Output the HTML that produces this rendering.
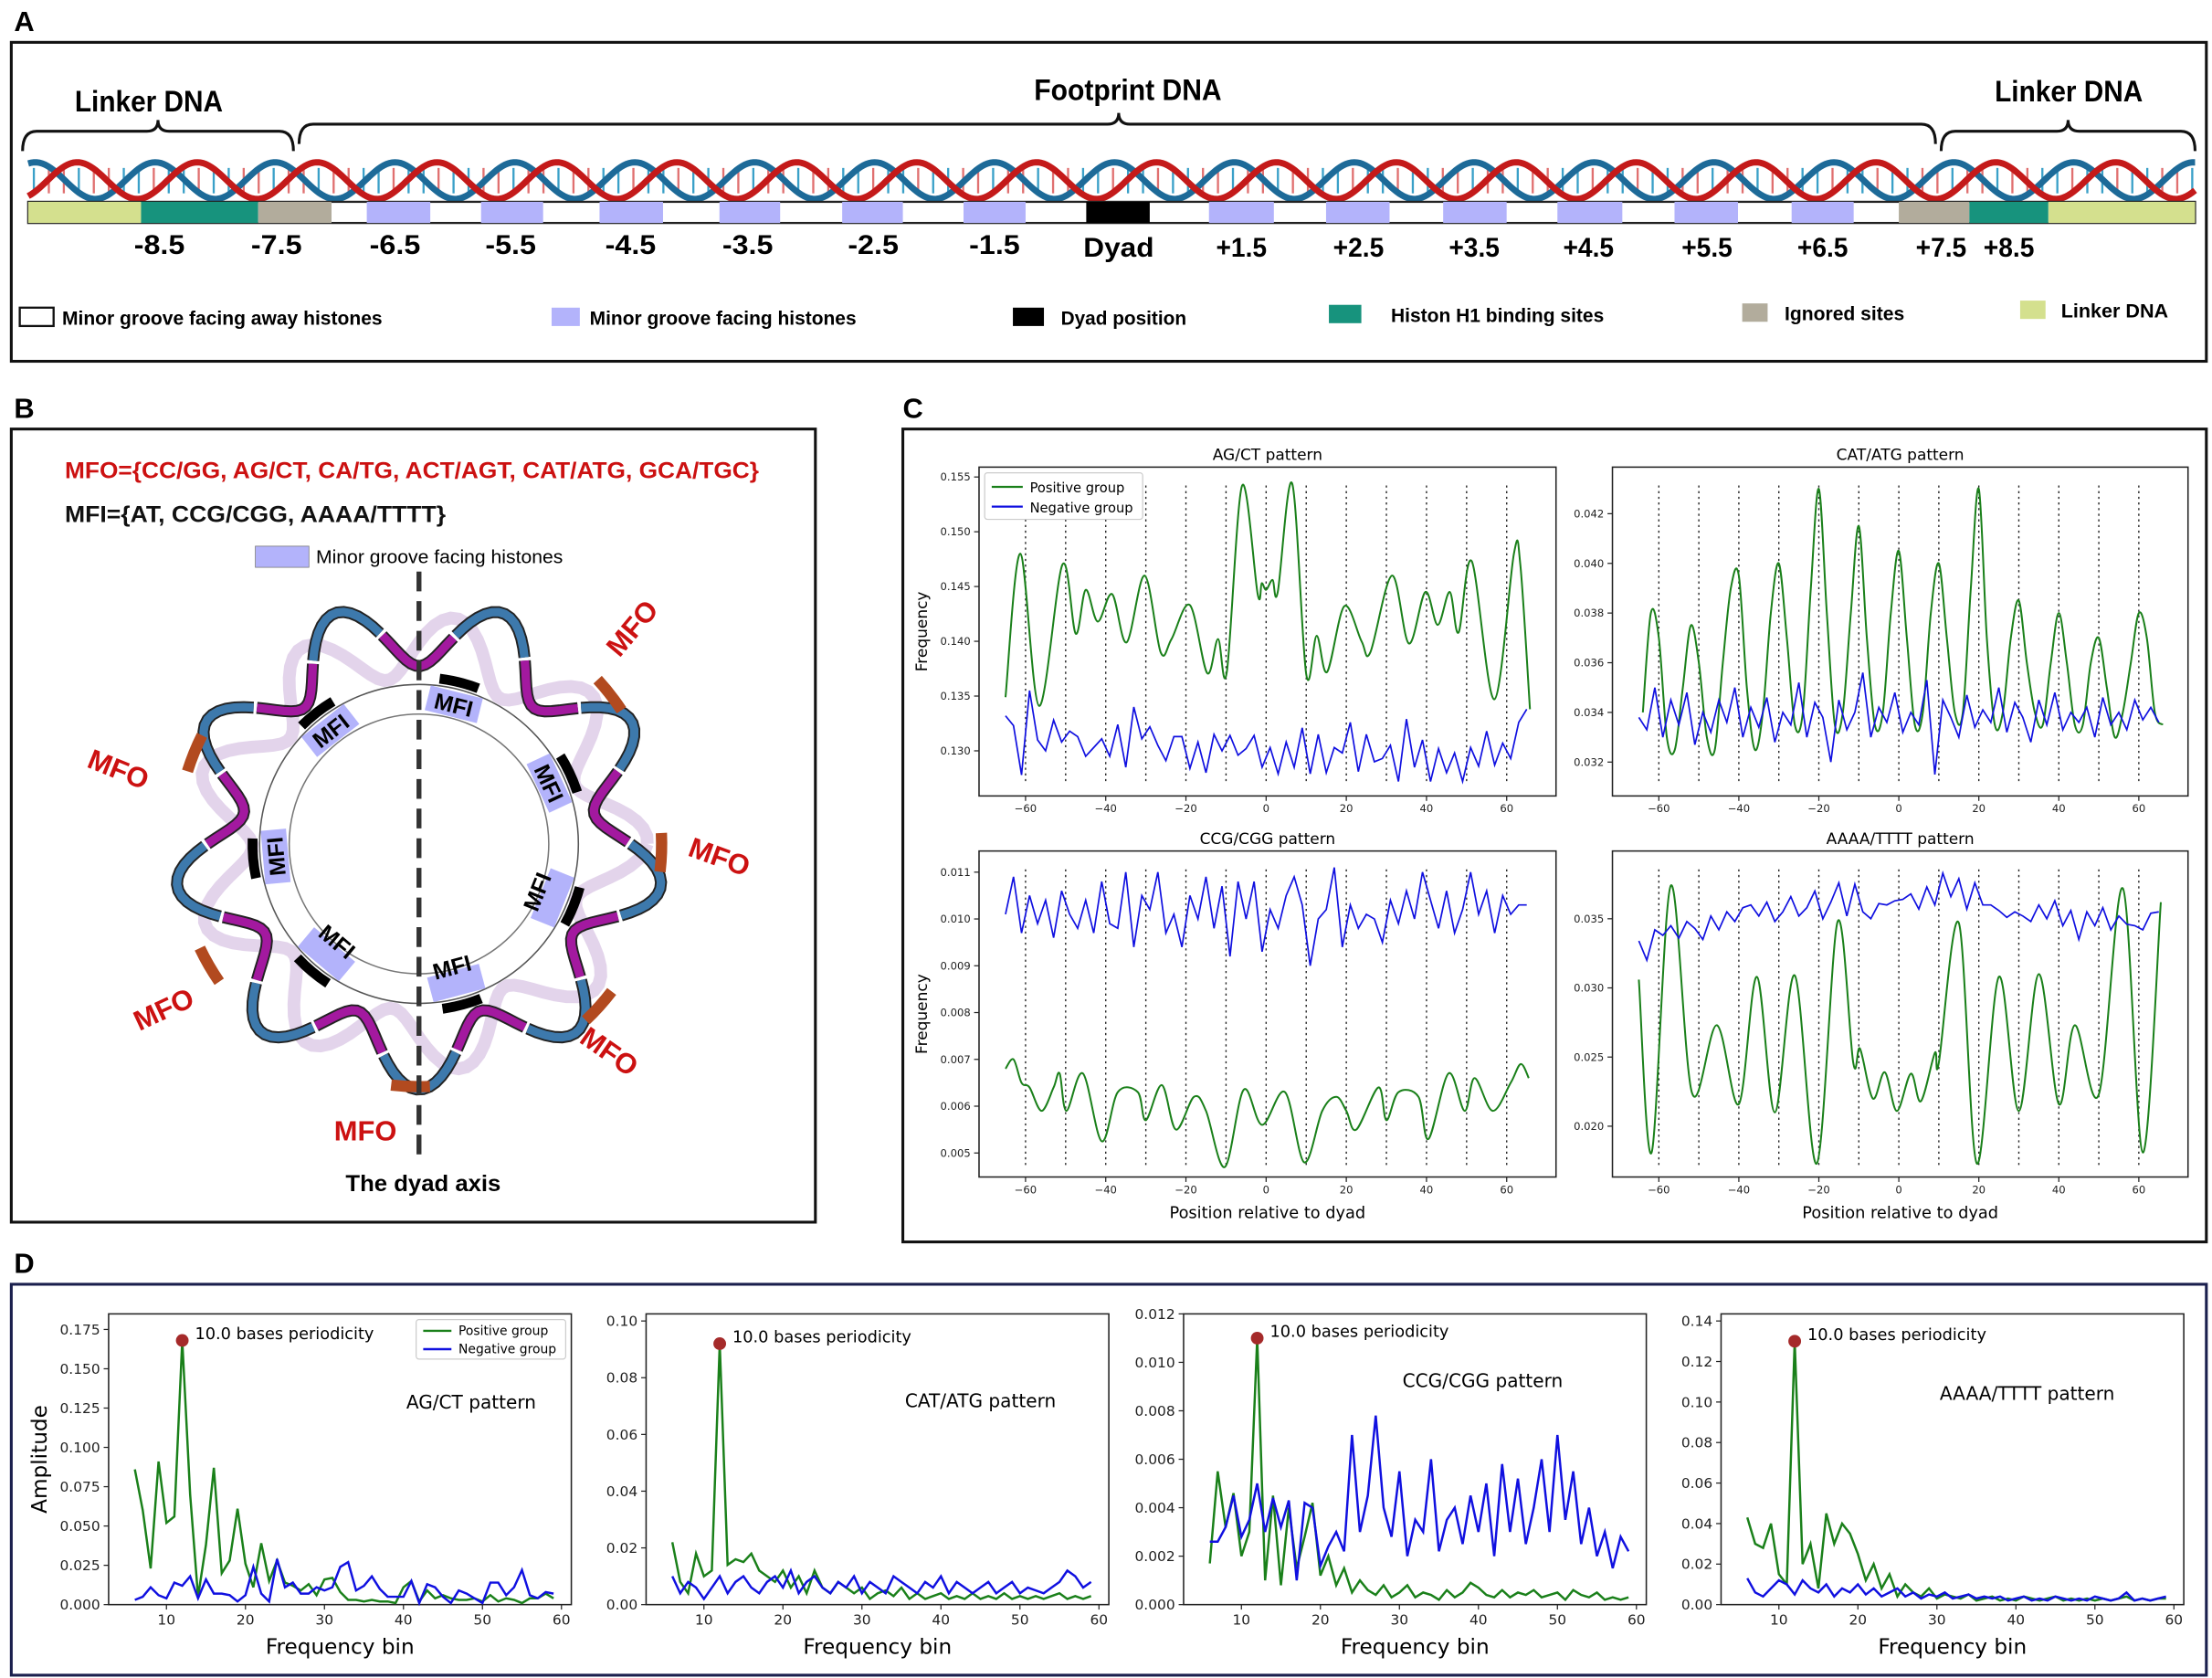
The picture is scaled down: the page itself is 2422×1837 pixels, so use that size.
<!DOCTYPE html>
<html><head><meta charset="utf-8">
<style>
html,body{margin:0;padding:0;background:#fff;}
svg{display:block;}
text{font-family:"DejaVu Sans","Liberation Sans",sans-serif;}
text.bold{font-family:"Liberation Sans",sans-serif;font-weight:bold;}
</style></head>
<body>
<svg id="fig" width="2422" height="1837" viewBox="0 0 1568 1189" preserveAspectRatio="none" xmlns="http://www.w3.org/2000/svg">
<rect x="0" y="0" width="1568" height="1189" fill="#fff"/>
<text x="10" y="22" class="bold" font-size="20">A</text>
<rect x="8" y="30" width="1556" height="226" fill="none" stroke="#111" stroke-width="2"/>
<text x="53" y="79" class="bold" font-size="21" textLength="105" lengthAdjust="spacingAndGlyphs">Linker DNA</text>
<text x="733" y="71" class="bold" font-size="21" textLength="133" lengthAdjust="spacingAndGlyphs">Footprint DNA</text>
<text x="1414" y="72" class="bold" font-size="21" textLength="105" lengthAdjust="spacingAndGlyphs">Linker DNA</text>
<g id="braces" fill="none" stroke="#111" stroke-width="2"></g>
<g id="helix"></g>
<g id="barA"></g>
<g id="legendA" font-size="14"></g>
<text x="10" y="296" class="bold" font-size="20">B</text>
<rect x="8" y="304" width="570" height="562" fill="none" stroke="#111" stroke-width="2"/>
<text x="46" y="339" class="bold" font-size="16" fill="#cc1111" textLength="492" lengthAdjust="spacingAndGlyphs">MFO={CC/GG, AG/CT, CA/TG, ACT/AGT, CAT/ATG, GCA/TGC}</text>
<text x="46" y="370" class="bold" font-size="16" fill="#111" textLength="270" lengthAdjust="spacingAndGlyphs">MFI={AT, CCG/CGG, AAAA/TTTT}</text>
<rect x="181" y="387" width="38" height="15" fill="#b3b3fb" stroke="#777" stroke-width="0.5"/>
<text x="224" y="399" font-size="13" style="font-family:'Liberation Sans',sans-serif" textLength="175" lengthAdjust="spacingAndGlyphs">Minor groove facing histones</text>
<g id="nucleosome"></g>
<text x="245" y="844" class="bold" font-size="16" textLength="110" lengthAdjust="spacingAndGlyphs">The dyad axis</text>
<text x="640" y="296" class="bold" font-size="20">C</text>
<rect x="640" y="304" width="924" height="576" fill="none" stroke="#111" stroke-width="2"/>
<g id="panelC"></g>
<text x="10" y="902" class="bold" font-size="20">D</text>
<rect x="8" y="910" width="1556" height="277" fill="none" stroke="#1a1f4d" stroke-width="2"/>
<g id="panelD"></g>
</svg>
<script>
const agctGx = [-65,-61.3,-56.6,-50.8,-47.5,-45,-42,-38.4,-34.8,-30.3,-26.3,-23.6,-19,-14.7,-12,-9.8,-6,-2.1,-1.1,0,1.6,2.9,6.5,10,12.6,15.2,19.5,23.8,26,31.4,35.6,39.7,42.8,45.8,48,51.3,56.9,61.8,63.4,65.8];
const agctG = [.1349,.148,.1341,.147,.1407,.1447,.1418,.1443,.1399,.146,.139,.1402,.1433,.1371,.1402,.1372,.1542,.1443,.1453,.1447,.1456,.1445,.1544,.137,.1405,.1372,.1432,.140,.139,.146,.1398,.1445,.1415,.1445,.1408,.1473,.1347,.148,.147,.1338];
const agctB = [.1332,.1323,.1278,.1355,.1310,.1300,.1328,.1308,.1318,.1313,.1295,.1303,.1311,.1295,.1324,.1285,.1340,.1311,.1322,.1305,.1291,.1313,.1313,.1284,.1308,.1280,.1315,.1300,.1314,.1296,.1302,.1314,.1285,.1303,.1279,.1308,.1285,.1321,.1279,.1315,.1280,.1303,.1298,.1326,.1281,.1315,.1290,.1293,.1305,.1272,.1329,.1285,.1310,.1272,.1302,.1280,.1298,.1272,.1303,.1286,.1318,.1287,.1307,.1293,.1326,.1338];
const catGx = [-64,-62,-60,-58,-56,-54,-52,-50,-48,-46,-44,-42,-40,-38,-36,-34,-32,-30,-28,-26,-24,-22,-20,-18,-16,-14,-12,-10,-8,-6,-4,-2,0,2,4,6,8,10,12,14,16,18,20,22,24,26,28,30,32,34,36,38,40,42,44,46,48,50,52,54,56,58,60,62,64,66];
const catG = [.034,.038,.037,.033,.0325,.035,.0375,.036,.033,.0325,.036,.039,.0395,.035,.0325,.034,.038,.040,.037,.0335,.034,.039,.043,.038,.0335,.034,.038,.0415,.037,.0335,.034,.038,.0405,.037,.0335,.034,.038,.040,.037,.034,.034,.039,.043,.037,.0335,.034,.037,.0385,.036,.034,.0335,.036,.038,.036,.0335,.0335,.036,.037,.035,.033,.034,.036,.038,.037,.034,.0335];
const catB = [.0338,.0333,.0350,.0330,.0345,.0335,.0348,.0327,.0340,.0332,.0345,.0336,.0350,.0330,.0342,.0334,.0346,.0328,.0340,.0335,.0352,.0330,.0344,.0338,.0320,.0345,.0333,.0340,.0356,.0330,.0342,.0336,.0348,.0332,.0340,.0335,.0353,.0315,.0345,.0338,.0330,.0347,.0334,.0341,.0336,.0350,.0332,.0344,.0338,.0328,.0345,.0335,.0348,.0333,.0340,.0336,.0342,.0330,.0346,.0335,.0340,.0333,.0345,.0337,.0342,.0336];
const ccgGx = [-65,-63,-61,-59,-56,-53,-51.5,-49.8,-45.7,-41,-37,-32,-30,-26,-22.5,-18,-15,-10.3,-5.6,-1,4.7,9.5,14,17.5,20,22.5,28,30,33,38,40.5,45.5,49.5,52,56.5,61,63.5,65.5];
const ccgG = [.0068,.0070,.0065,.0064,.0059,.0064,.0067,.0059,.0067,.00525,.0063,.0063,.0057,.00645,.0055,.0062,.0059,.0047,.00635,.0056,.0063,.0048,.0059,.0062,.0059,.0055,.0064,.0057,.0063,.0062,.0053,.0067,.0059,.0066,.0059,.0065,.0069,.0066];
const ccgB = [.0101,.0109,.0097,.0105,.0099,.0104,.0096,.0106,.0101,.0098,.0104,.0097,.0108,.0099,.0098,.0110,.0094,.0105,.0102,.0110,.0097,.0101,.0094,.0105,.0100,.0109,.0098,.0107,.0092,.0108,.0100,.0108,.0093,.0102,.0098,.0105,.0109,.0103,.0090,.0100,.0102,.0111,.0094,.0103,.0098,.0101,.0100,.0095,.0104,.0099,.0106,.0100,.0110,.0104,.0098,.0106,.0097,.0102,.0110,.0101,.0106,.0097,.0105,.0101,.0103,.0103];
const aaaGx = [-65,-61.8,-57,-51.7,-45.5,-40,-35.5,-31,-26,-20.5,-15.3,-11.4,-9.7,-6.5,-3.5,-0.5,3,5.5,9,10,15,19.5,25,30,35,40,44,50,56,61,65.5];
const aaaG = [.0306,.0181,.0374,.0224,.0273,.0216,.0308,.0210,.0309,.0173,.0348,.0246,.0256,.0220,.0239,.0211,.0238,.0218,.0253,.0246,.0347,.0173,.0308,.0211,.0310,.0216,.0273,.0223,.0372,.0181,.0362];
const aaaB = [.0334,.0320,.0342,.0338,.0345,.0336,.0348,.0343,.0335,.0352,.0342,.0355,.0348,.0358,.0360,.0352,.0362,.0348,.0355,.0366,.0352,.0358,.0370,.0350,.0362,.0376,.0352,.0375,.0355,.0350,.0361,.0360,.0363,.0364,.0368,.0357,.0373,.0360,.0383,.0366,.0379,.0357,.0376,.0360,.0360,.0356,.0351,.0355,.0352,.0348,.0360,.0350,.0363,.0345,.0356,.0335,.0355,.0345,.0358,.0342,.0352,.0346,.0345,.0342,.0354,.0355];
const negStart = -65, negStep = 2;
const dyadLines = [-60,-50,-40,-30,-20,-10,0,10,20,30,40,50,60];
const posTicks = [-60,-40,-20,0,20,40,60];

const dBinStart = 6;
const d1G = [.086,.060,.023,.091,.052,.056,.168,.070,.005,.038,.087,.020,.028,.061,.026,.011,.039,.015,.028,.014,.012,.009,.013,.006,.016,.017,.008,.003,.003,.002,.003,.002,.002,.001,.011,.015,.002,.009,.004,.006,.004,.003,.003,.004,.002,.006,.002,.004,.003,.001,.004,.004,.007,.004];
const d1B = [.003,.005,.011,.006,.004,.014,.012,.018,.004,.016,.007,.007,.006,.002,.006,.024,.007,.002,.029,.011,.014,.007,.007,.011,.009,.011,.024,.027,.009,.012,.018,.010,.005,.005,.005,.015,.001,.013,.011,.005,.001,.009,.007,.004,.001,.014,.014,.006,.011,.022,.006,.004,.008,.007];
const d2G = [.022,.008,.004,.018,.010,.012,.092,.014,.016,.015,.018,.012,.010,.008,.012,.006,.010,.004,.012,.006,.004,.008,.006,.004,.006,.002,.004,.005,.003,.006,.002,.004,.002,.003,.004,.002,.003,.002,.004,.002,.003,.002,.004,.002,.003,.002,.003,.002,.003,.004,.002,.003,.002,.003];
const d2B = [.010,.004,.008,.006,.002,.006,.010,.004,.008,.010,.006,.004,.008,.010,.006,.012,.004,.008,.010,.006,.004,.008,.006,.010,.004,.008,.006,.004,.010,.008,.006,.004,.008,.006,.010,.004,.008,.006,.004,.006,.008,.004,.006,.008,.004,.006,.005,.004,.006,.008,.012,.010,.006,.008];
const d3G = [.0017,.0055,.0032,.0046,.0020,.0030,.0110,.0010,.0045,.0008,.0040,.0015,.0028,.0042,.0012,.0020,.0008,.0015,.0005,.0010,.0006,.0004,.0008,.0003,.0005,.0008,.0003,.0005,.0004,.0002,.0006,.0003,.0005,.0009,.0007,.0004,.0003,.0006,.0003,.0005,.0004,.0006,.0003,.0004,.0005,.0002,.0006,.0004,.0003,.0005,.0002,.0003,.0002,.0003];
const d3B = [.0026,.0026,.0032,.0045,.0028,.0035,.0050,.0030,.0044,.0032,.0043,.0010,.0042,.0040,.0016,.0024,.0030,.0022,.0070,.0030,.0045,.0078,.0040,.0028,.0055,.0020,.0035,.0030,.0060,.0022,.0035,.0040,.0025,.0045,.0030,.0050,.0020,.0058,.0030,.0052,.0025,.0040,.0060,.0030,.0070,.0035,.0055,.0025,.0040,.0020,.0030,.0015,.0028,.0022];
const d4G = [.043,.030,.028,.040,.015,.010,.130,.020,.030,.008,.045,.030,.040,.035,.025,.012,.020,.008,.015,.004,.010,.006,.004,.008,.003,.005,.004,.003,.005,.002,.003,.004,.002,.003,.002,.004,.003,.002,.003,.004,.002,.003,.002,.003,.002,.003,.002,.003,.004,.002,.003,.002,.003,.003];
const d4B = [.013,.006,.004,.008,.012,.010,.005,.012,.008,.006,.010,.004,.008,.006,.010,.005,.008,.004,.006,.008,.004,.006,.003,.005,.004,.006,.003,.004,.005,.003,.004,.003,.004,.002,.003,.004,.002,.003,.002,.004,.003,.002,.003,.002,.004,.003,.002,.003,.006,.002,.003,.002,.003,.004];
const dPeakBin = 12;
const dXTicks = [10,20,30,40,50,60];

const aLabels = ['-8.5','-7.5','-6.5','-5.5','-4.5','-3.5','-2.5','-1.5','Dyad','+1.5','+2.5','+3.5','+4.5','+5.5','+6.5','+7.5','+8.5'];

const NS='http://www.w3.org/2000/svg';
function el(tag, attrs, parent){const e=document.createElementNS(NS,tag);for(const k in attrs)e.setAttribute(k,attrs[k]);if(parent)parent.appendChild(e);return e;}
function smooth(p){let d='M'+p[0][0].toFixed(2)+','+p[0][1].toFixed(2);for(let i=0;i<p.length-1;i++){const p0=p[i-1]||p[i],p1=p[i],p2=p[i+1],p3=p[i+2]||p2;const c1=[p1[0]+(p2[0]-p0[0])/6,p1[1]+(p2[1]-p0[1])/6],c2=[p2[0]-(p3[0]-p1[0])/6,p2[1]-(p3[1]-p1[1])/6];d+=' C'+c1[0].toFixed(2)+','+c1[1].toFixed(2)+' '+c2[0].toFixed(2)+','+c2[1].toFixed(2)+' '+p2[0].toFixed(2)+','+p2[1].toFixed(2);}return d;}
function poly(p){return 'M'+p.map(q=>q[0].toFixed(2)+','+q[1].toFixed(2)).join(' L');}

(function(){
  const g=document.getElementById('braces');
  const br=[[16,208,112,93],[212,1372,793,88],[1376,1556,1466,93]];
  br.forEach((b,i)=>{const [a,c,m,y]=b;
    const p=el('path',{d:`M${a},${y+14} Q${a},${y} ${a+10},${y} L${m-8},${y} Q${m},${y} ${m},${y-8} Q${m},${y} ${m+8},${y} L${c-10},${y} Q${c},${y} ${c},${y+14}`},g);
    
    
  });
  const h=document.getElementById('helix');
  const x0=20,x1=1556,yc=128,amp=13,per=85;
  for(let x=x0+4;x<x1;x+=per/8){const r=el('line',{x1:x,y1:yc-9,x2:x,y2:yc+9,stroke:(Math.round(x)%2?'#e07070':'#3aa0c8'),'stroke-width':1.5},h);
    
    }
  const red=[],blue=[];
  for(let x=x0;x<=x1;x+=2){blue.push([x,yc-amp*Math.sin((x-x0)/per*2*Math.PI+1.2)]);red.push([x,yc-amp*Math.sin((x-x0)/per*2*Math.PI+1.2-2.2)]);}
  const pb=el('path',{d:poly(blue),fill:'none',stroke:'#1d6a98','stroke-width':4.5},h);
  
  
  const pr=el('path',{d:poly(red),fill:'none',stroke:'#c41a1a','stroke-width':4.5},h);
  
  

  const bar=document.getElementById('barA');
  const bg=el('rect',{x:20,y:143,width:1536,height:15,fill:'#fff',stroke:'#222','stroke-width':1.5},bar);
  
  
  const segs=[[20,100,'#d4e08e'],[100,183,'#17937d'],[183,235,'#b2ac9c'],[260,305,'#b3b3fb'],[341,385,'#b3b3fb'],[425,470,'#b3b3fb'],[510,553,'#b3b3fb'],[597,640,'#b3b3fb'],[683,727,'#b3b3fb'],[770,815,'#000'],[857,903,'#b3b3fb'],[940,985,'#b3b3fb'],[1023,1068,'#b3b3fb'],[1104,1150,'#b3b3fb'],[1187,1232,'#b3b3fb'],[1270,1314,'#b3b3fb'],[1346,1396,'#b2ac9c'],[1396,1452,'#17937d'],[1452,1556,'#d4e08e']];
  segs.forEach(s=>{const r=el('rect',{x:s[0],y:143,width:s[1]-s[0],height:15,fill:s[2]},bar);
    
    });
  const lx=[113,196,280,362,447,530,619,705,793,880,963,1045,1126,1210,1292,1376,1424];
  aLabels.forEach((t,i)=>{const tx=el('text',{x:lx[i],y:(t==='Dyad'||t[0]==='+')?182:180,'font-size':19,'text-anchor':'middle',class:'bold',textLength:(t==='Dyad'?50:36),lengthAdjust:'spacingAndGlyphs'},bar);tx.textContent=t;
    
    });
  const lg=document.getElementById('legendA');
  const items=[[14,24,'#fff','Minor groove facing away histones',44,218,227],[391,20,'#b3b3fb','Minor groove facing histones',418,218,189],[718,22,'#000','Dyad position',752,218,89],[942,23,'#17937d','Histon H1 binding sites',986,216,151],[1235,18,'#b2ac9c','Ignored sites',1265,215,85],[1432,18,'#d4e08e','Linker DNA',1461,213,76]];
  items.forEach(it=>{const r=el('rect',{x:it[0],y:it[5],width:it[1],height:13,fill:it[2],stroke:it[2]==='#fff'?'#111':'none','stroke-width':1.5},lg);
    
    
    const t=el('text',{x:it[4],y:it[5]+12,class:'bold',textLength:it[6],lengthAdjust:'spacingAndGlyphs'},lg);t.textContent=it[3];
    
    });
})();

(function(){
  const g=document.getElementById('nucleosome');
  const cx=297,cy=598;
  const back=[];for(let a=0;a<=360;a+=2){const t=a*Math.PI/180;const r=140+22*Math.sin(9*t+1.7);back.push([cx+r*Math.cos(t),cy+r*Math.sin(t)]);}
  const bk=el('path',{d:poly(back),fill:'none',stroke:'#d7c2e2','stroke-width':9,opacity:0.7},g);
  
  
  const n=9;
  for(let k=0;k<2*n;k++){const pts=[];for(let a=k*180/n;a<=(k+1)*180/n+0.5;a+=1.5){const t=a*Math.PI/180;const r=150+24*Math.sin(n*t);pts.push([cx+r*Math.cos(t),cy+r*Math.sin(t)]);}
    const o=el('path',{d:poly(pts),fill:'none',stroke:'#222','stroke-width':8.5},g);
    
    
    const p=el('path',{d:poly(pts),fill:'none',stroke:k%2?'#a3199f':'#3d79ac','stroke-width':6},g);
    
    }
  const ring=el('circle',{cx:cx,cy:cy,r:113,fill:'#fff',stroke:'#555','stroke-width':1},g);
  
  
  const inner=el('circle',{cx:cx,cy:cy,r:92,fill:'#fff',stroke:'#777','stroke-width':1},g);
  
  
  const mfiAng=[-76,-128,-25,-185,22,130,75];
  mfiAng.forEach(a=>{const t=a*Math.PI/180;const x=cx+102*Math.cos(t),y=cy+102*Math.sin(t);
    const gg=el('g',{transform:`translate(${x},${y}) rotate(${a+90})`},g);
    
    
    el('rect',{x:-19,y:-9,width:38,height:18,fill:'#b3b3fb'},gg);
    const tt=el('text',{x:0,y:6,'text-anchor':'middle','font-size':16,class:'bold',transform:(a>0&&a<180)?'rotate(180 0 0) translate(0,-12)':''},gg);tt.textContent='MFI';
    
    
    const hk=el('path',{d:`M${cx+118*Math.cos(t-0.12)},${cy+118*Math.sin(t-0.12)} A118,118 0 0 1 ${cx+118*Math.cos(t+0.12)},${cy+118*Math.sin(t+0.12)}`,fill:'none',stroke:'#000','stroke-width':7},g);
    
    });
  const mfoAng=[-38,-158,2,150,42,92];
  mfoAng.forEach(a=>{const t=a*Math.PI/180;
    const hk=el('path',{d:`M${cx+172*Math.cos(t-0.08)},${cy+172*Math.sin(t-0.08)} A172,172 0 0 1 ${cx+172*Math.cos(t+0.08)},${cy+172*Math.sin(t+0.08)}`,fill:'none',stroke:'#b24a1f','stroke-width':8},g);
    
    });
  const mfoL=[[448,452,-50],[84,552,22],[510,614,20],[116,722,-25],[432,752,35],[259,808,0]];
  mfoL.forEach(m=>{const t=el('text',{x:m[0],y:m[1],'font-size':20,fill:'#cc1111',class:'bold','text-anchor':'middle',transform:`rotate(${m[2]} ${m[0]} ${m[1]-7})`},g);t.textContent='MFO';
    
    });
  const dl=el('line',{x1:297,y1:405,x2:297,y2:822,stroke:'#333','stroke-width':3.5,'stroke-dasharray':'14,7'},g);
  
  
})();

function axes(parent,name,b,xl,yl,xt,yt,fmt,fs){
  const g=el('g',{},parent);
  
  
  const sx=v=>b.x0+(v-xl[0])/(xl[1]-xl[0])*(b.x1-b.x0);
  const sy=v=>b.y1-(v-yl[0])/(yl[1]-yl[0])*(b.y1-b.y0);
  const fr=el('rect',{x:b.x0,y:b.y0,width:b.x1-b.x0,height:b.y1-b.y0,fill:'#fff',stroke:'#222','stroke-width':1},g);
  
  
  xt.forEach(v=>{const x=sx(v);el('line',{x1:x,y1:b.y1,x2:x,y2:b.y1+3.5,stroke:'#222','stroke-width':0.8},g);
    const t=el('text',{x:x,y:b.y1+4+fs,'font-size':fs,'text-anchor':'middle',fill:'#222'},g);t.textContent=(v<0?'\u2212'+(-v):v);
    
    });
  yt.forEach(v=>{const y=sy(v);el('line',{x1:b.x0-3.5,y1:y,x2:b.x0,y2:y,stroke:'#222','stroke-width':0.8},g);
    const t=el('text',{x:b.x0-6,y:y+fs*0.35,'font-size':fs,'text-anchor':'end',fill:'#222'},g);t.textContent=fmt(v);
    
    });
  return {g,sx,sy};
}

(function(){
  const P=document.getElementById('panelC');
  const defs=[
    {name:'agct-profile',title:'AG/CT pattern',b:{x0:694,x1:1103,y0:331,y1:564},yl:[.12588,.1559],yt:[.130,.135,.140,.145,.150,.155],f:3,gx:agctGx,gy:agctG,nb:agctB,ylab:true,xlab:false,leg:true},
    {name:'catatg-profile',title:'CAT/ATG pattern',b:{x0:1143,x1:1551,y0:331,y1:564},yl:[.030636,.043875],yt:[.032,.034,.036,.038,.040,.042],f:3,gx:catGx,gy:catG,nb:catB},
    {name:'ccgcgg-profile',title:'CCG/CGG pattern',b:{x0:694,x1:1103,y0:603,y1:834},yl:[.004487,.011452],yt:[.005,.006,.007,.008,.009,.010,.011],f:3,gx:ccgGx,gy:ccgG,nb:ccgB,ylab:true,xlab:true},
    {name:'aaaatttt-profile',title:'AAAA/TTTT pattern',b:{x0:1143,x1:1551,y0:603,y1:834},yl:[.016327,.0399],yt:[.020,.025,.030,.035],f:3,gx:aaaGx,gy:aaaG,nb:aaaB,xlab:true}
  ];
  defs.forEach(d=>{
    const a=axes(P,d.name,d.b,[-71.6,72.3],d.yl,posTicks,d.yt,v=>v.toFixed(d.f),7.5);
    const t=el('text',{x:(d.b.x0+d.b.x1)/2,y:d.b.y0-5,'font-size':11,'text-anchor':'middle'},a.g);t.textContent=d.title;
    
    
    dyadLines.forEach(v=>{const l=el('line',{x1:a.sx(v),x2:a.sx(v),y1:d.b.y0+13,y2:d.b.y1-8,stroke:'#222','stroke-width':0.9,'stroke-dasharray':'1.5,2.5'},a.g);
      
      });
    const gp=d.gx.map((x,i)=>[a.sx(x),a.sy(d.gy[i])]);
    const pg=el('path',{d:smooth(gp),fill:'none',stroke:'#1a801a','stroke-width':1.3},a.g);
    
    
    const bp=d.nb.map((v,i)=>[a.sx(negStart+negStep*i),a.sy(v)]);
    const pb=el('path',{d:poly(bp),fill:'none',stroke:'#1010e0','stroke-width':1.1},a.g);
    
    
    if(d.ylab){const yl=el('text',{x:d.b.x0-37,y:(d.b.y0+d.b.y1)/2,'font-size':11,'text-anchor':'middle',transform:`rotate(-90 ${d.b.x0-37} ${(d.b.y0+d.b.y1)/2})`},a.g);yl.textContent='Frequency';
      
      }
    if(d.xlab){const xl=el('text',{x:(d.b.x0+d.b.x1)/2,y:d.b.y1+29,'font-size':11.5,'text-anchor':'middle'},a.g);xl.textContent='Position relative to dyad';
      
      }
    if(d.leg){const lg=el('g',{},a.g);
      
      
      el('rect',{x:698,y:335,width:112,height:33,fill:'#fff',stroke:'#ccc','stroke-width':0.8,rx:2},lg);
      el('line',{x1:703,x2:725,y1:345,y2:345,stroke:'#1a801a','stroke-width':1.5},lg);
      el('line',{x1:703,x2:725,y1:359,y2:359,stroke:'#1010e0','stroke-width':1.5},lg);
      const t1=el('text',{x:730,y:349,'font-size':9.5},lg);t1.textContent='Positive group';
      
      
      const t2=el('text',{x:730,y:363,'font-size':9.5},lg);t2.textContent='Negative group';
      
      }
  });
})();

(function(){
  const P=document.getElementById('panelD');
  const defs=[
    {name:'agct-spectrum',title:'AG/CT pattern',tx:334,ty:998,b:{x0:77,x1:405},yl:[0,.1849],yt:[0,.025,.05,.075,.1,.125,.15,.175],f:3,g:d1G,n:d1B,leg:true,ylab:true},
    {name:'catatg-spectrum',title:'CAT/ATG pattern',tx:695,ty:997,b:{x0:458,x1:786},yl:[0,.1025],yt:[0,.02,.04,.06,.08,.10],f:2,g:d2G,n:d2B},
    {name:'ccgcgg-spectrum',title:'CCG/CGG pattern',tx:1051,ty:983,b:{x0:839,x1:1167},yl:[0,.012],yt:[0,.002,.004,.006,.008,.010,.012],f:3,g:d3G,n:d3B},
    {name:'aaaatttt-spectrum',title:'AAAA/TTTT pattern',tx:1437,ty:992,b:{x0:1220,x1:1548},yl:[0,.1435],yt:[0,.02,.04,.06,.08,.10,.12,.14],f:2,g:d4G,n:d4B}
  ];
  defs.forEach(d=>{
    const b={x0:d.b.x0,x1:d.b.x1,y0:931,y1:1137};
    const a=axes(P,d.name,b,[2.68,61.25],d.yl,dXTicks,d.yt,v=>v.toFixed(d.f),10);
    const gp=d.g.map((v,i)=>[a.sx(dBinStart+i),a.sy(v)]);
    const bp=d.n.map((v,i)=>[a.sx(dBinStart+i),a.sy(v)]);
    const pg=el('path',{d:poly(gp),fill:'none',stroke:'#1a801a','stroke-width':1.6},a.g);
    
    
    const pb=el('path',{d:poly(bp),fill:'none',stroke:'#1010e0','stroke-width':1.6},a.g);
    
    
    const pk=d.g[dPeakBin-dBinStart];
    const dot=el('circle',{cx:a.sx(dPeakBin),cy:a.sy(pk),r:4.5,fill:'#a52a2a'},a.g);
    
    
    const an=el('text',{x:a.sx(dPeakBin)+9,y:a.sy(pk)-1,'font-size':11.5},a.g);an.textContent='10.0 bases periodicity';
    
    
    const tt=el('text',{x:d.tx,y:d.ty,'font-size':13,'text-anchor':'middle'},a.g);tt.textContent=d.title;
    
    
    const xl=el('text',{x:(b.x0+b.x1)/2,y:1172,'font-size':15,'text-anchor':'middle'},a.g);xl.textContent='Frequency bin';
    
    
    if(d.ylab){const yl=el('text',{x:33,y:1034,'font-size':15,'text-anchor':'middle',transform:'rotate(-90 33 1034)'},a.g);yl.textContent='Amplitude';
      
      }
    if(d.leg){const lg=el('g',{},a.g);
      
      
      el('rect',{x:295,y:935,width:106,height:28,fill:'#fff',stroke:'#ccc','stroke-width':0.8,rx:2},lg);
      el('line',{x1:300,x2:320,y1:943,y2:943,stroke:'#1a801a','stroke-width':1.6},lg);
      el('line',{x1:300,x2:320,y1:956,y2:956,stroke:'#1010e0','stroke-width':1.6},lg);
      const t1=el('text',{x:325,y:946,'font-size':9},lg);t1.textContent='Positive group';
      
      
      const t2=el('text',{x:325,y:959,'font-size':9},lg);t2.textContent='Negative group';
      
      }
  });
})();
</script>
</body></html>
